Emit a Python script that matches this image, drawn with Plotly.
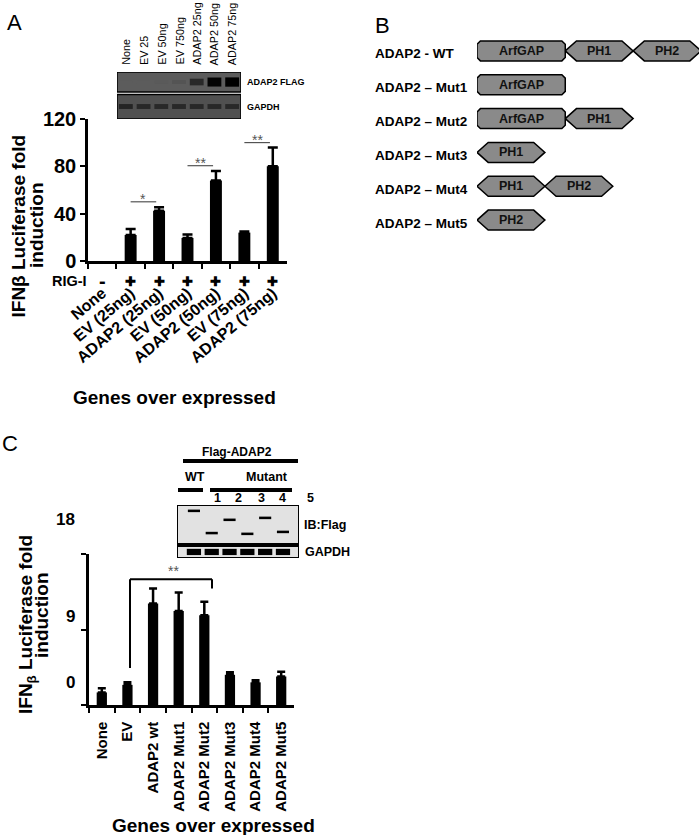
import numpy as np
import plotly.graph_objects as go

W, H = 700, 835
FONT = "Liberation Sans, Arial, sans-serif"

# ---- panel A: IFNb luciferase vs ADAP2 dose
a_genes = ["None", "EV (25ng)", "ADAP2 (25ng)", "EV (50ng)", "ADAP2 (50ng)", "EV (75ng)", "ADAP2 (75ng)"]
a_fold = [0, 22, 42.5, 19.5, 68, 24, 80]
a_err = [None, 5, 3, 3, 8, 1, 16]
a_rig_i = ["-", "+", "+", "+", "+", "+", "+"]
a_ticks = [0, 40, 80, 120]
a_sig_pairs = [(1, 2), (3, 4), (5, 6)]
a_sig_y = [50, 80.5, 100]
a_sig_text = ["*", "**", "**"]

# western blot inset of panel A
blot_a_lanes = ["None", "EV 25", "EV 50ng", "EV 750ng", "ADAP2 25ng", "ADAP2 50ng", "ADAP2 75ng"]
blot_a_flag = [0.0, 0.0, 0.02, 0.08, 0.55, 0.95, 1.0]
blot_a_gapdh = [0.55, 0.5, 0.5, 0.5, 0.5, 0.5, 0.5]

# ---- panel B: domain constructs
constructs = ["ADAP2 - WT", "ADAP2 \u2013 Mut1", "ADAP2 \u2013 Mut2", "ADAP2 \u2013 Mut3",
              "ADAP2 \u2013 Mut4", "ADAP2 \u2013 Mut5"]
construct_domains = [["ArfGAP", "PH1", "PH2"], ["ArfGAP"], ["ArfGAP", "PH1"], ["PH1"],
                     ["PH1", "PH2"], ["PH2"]]
domain_len = {"ArfGAP": 1.3, "PH1": 1.0, "PH2": 1.0}

# ---- panel C: IFNb luciferase vs ADAP2 mutants
c_genes = ["None", "EV", "ADAP2 wt", "ADAP2 Mut1", "ADAP2 Mut2", "ADAP2 Mut3", "ADAP2 Mut4", "ADAP2 Mut5"]
c_fold = [1.5, 2.4, 12.1, 11.2, 10.7, 3.6, 2.7, 3.4]
c_err = [0.5, 0.3, 1.8, 2.2, 1.6, 0.3, 0.25, 0.55]
c_ticks = [0, 9, 18]
c_sig = (1, 4, 15.0, "**")

# western blot inset of panel C
c_blot_lanes = ["WT", "1", "2", "3", "4", "5"]
c_band_migration = [0.15, 0.72, 0.38, 0.74, 0.33, 0.69]
c_gapdh = [1, 1, 1, 1, 1, 1]


def px(x):
    return x / W


def py(y):
    return 1 - y / H


def note(text, x, y, size, xref="paper", yref="paper", bold=True, color="black",
         xanchor="center", yanchor="middle", **kw):
    return dict(text=text, x=x, y=y, xref=xref, yref=yref, showarrow=False,
                xanchor=xanchor, yanchor=yanchor,
                font=dict(family=FONT, size=size, color=color, weight="bold" if bold else "normal"), **kw)


def mix(rgb, k):
    r, g, b = [int(c * (1 - k)) for c in rgb]
    return f"rgb({r},{g},{b})"


fig = go.Figure()
annotations = []
shapes = []

# bars A (no error bar where there is no value)
a_err_arr = np.array(a_err, dtype=float)
fig.add_trace(go.Bar(x=a_genes, y=a_fold, marker=dict(color="black", line_width=0), width=0.42,
                     error_y=dict(type="data", array=a_err_arr, arrayminus=a_err_arr * 0,
                                  symmetric=False, color="black", thickness=2.5, width=5),
                     xaxis="x", yaxis="y", showlegend=False))

# bars C
fig.add_trace(go.Bar(x=c_genes, y=c_fold, marker=dict(color="black", line_width=0), width=0.4,
                     error_y=dict(type="data", array=c_err, arrayminus=[0] * len(c_err), symmetric=False,
                                  color="black", thickness=2.5, width=4),
                     xaxis="x2", yaxis="y2", showlegend=False))

# blot A bands
lanes_a = list(range(1, len(blot_a_lanes) + 1))
flag_bg, gapdh_bg = (92, 92, 92), (80, 80, 80)
fig.add_trace(go.Bar(x=lanes_a, y=[0.14 + 0.24 * v for v in blot_a_flag],
                     base=[1.0 - (0.14 + 0.24 * v) / 2 for v in blot_a_flag],
                     marker=dict(color=[mix(flag_bg, v) for v in blot_a_flag], line_width=0),
                     width=0.78, xaxis="x3", yaxis="y3", showlegend=False))
fig.add_trace(go.Bar(x=lanes_a, y=[0.2] * len(blot_a_gapdh), base=[-0.1] * len(blot_a_gapdh),
                     marker=dict(color=[mix(gapdh_bg, v) for v in blot_a_gapdh], line_width=0),
                     width=0.78, xaxis="x3", yaxis="y3", showlegend=False))
shapes.append(dict(type="rect", xref="x3", yref="y3", x0=0.5, x1=7.5, y0=0.59, y1=1.41,
                   fillcolor="rgb(92,92,92)", line=dict(color="black", width=1.5), layer="below"))
shapes.append(dict(type="rect", xref="x3", yref="y3", x0=0.5, x1=7.5, y0=-0.51, y1=0.49,
                   fillcolor="rgb(80,80,80)", line=dict(color="black", width=1.5), layer="below"))
for i, lab in enumerate(blot_a_lanes):
    annotations.append(note(lab, i + 1, py(67), 10.8, xref="x3", bold=False, textangle=-90,
                            yanchor="bottom"))
annotations.append(note("ADAP2 FLAG", px(245), py(82), 9, xanchor="left"))
annotations.append(note("GAPDH", px(245), py(107), 9, xanchor="left"))

# panel B domain diagrams
for row, doms in enumerate(construct_domains):
    start = 0.0
    for d in doms:
        s, e = start, start + domain_len[d]
        hh = 0.295
        if d == "ArfGAP":
            cx, ch = 0.05, 0.1
            xs = [s, s + cx, e - cx, e, e, e - cx, s + cx, s, s]
            ys = [row - hh + ch, row - hh, row - hh, row - hh + ch, row + hh - ch, row + hh, row + hh,
                  row + hh - ch, row - hh + ch]
        else:
            dp = 0.165
            xs = [s, s + dp, e - dp, e, e - dp, s + dp, s]
            ys = [row, row - hh, row - hh, row, row + hh, row + hh, row]
        fig.add_trace(go.Scatter(x=xs, y=ys, mode="lines", fill="toself", fillcolor="#8a8a8a",
                                 line=dict(color="black", width=1.5), xaxis="x4", yaxis="y4",
                                 showlegend=False, hoverinfo="skip"))
        annotations.append(note(d, (s + e) / 2, row, 12.5, xref="x4", yref="y4", color="#111"))
        start = e
    annotations.append(note(constructs[row], px(373), row, 13.5, yref="y4", xanchor="left", yshift=-3))

# blot C
lanes_c = list(range(1, len(c_blot_lanes) + 1))
shapes.append(dict(type="rect", xref="x5", yref="y5", x0=0.05, x1=6.9, y0=0, y1=1.0,
                   fillcolor="#e2e2e2", line=dict(color="black", width=2), layer="below"))
shapes.append(dict(type="rect", xref="x5", yref="y5", x0=0.05, x1=6.9, y0=1.05, y1=1.36,
                   fillcolor="#e2e2e2", line=dict(color="black", width=2), layer="below"))
fig.add_trace(go.Bar(x=lanes_c, y=[0.065] * len(lanes_c), base=[m - 0.032 for m in c_band_migration],
                     marker=dict(color="black", line_width=0), width=0.68, xaxis="x5", yaxis="y5",
                     showlegend=False))
fig.add_trace(go.Bar(x=lanes_c, y=[0.16 * v for v in c_gapdh], base=[1.125] * len(c_gapdh),
                     marker=dict(color="black", line_width=0), width=0.8, xaxis="x5", yaxis="y5",
                     showlegend=False))
annotations.append(note("Flag-ADAP2", px(237), py(452), 12))
shapes.append(dict(type="line", xref="paper", yref="paper", x0=px(183), x1=px(298), y0=py(461), y1=py(461),
                   line=dict(color="black", width=4)))
annotations.append(note("WT", px(195), py(477), 12.5))
annotations.append(note("Mutant", px(267), py(477), 12.5))
shapes.append(dict(type="line", xref="paper", yref="paper", x0=px(178), x1=px(203), y0=py(490), y1=py(490),
                   line=dict(color="black", width=4)))
shapes.append(dict(type="line", xref="paper", yref="paper", x0=px(210), x1=px(292), y0=py(490), y1=py(490),
                   line=dict(color="black", width=4)))
for lab, xx in zip(c_blot_lanes[1:], [217, 238, 261, 282, 310]):
    annotations.append(note(lab, px(xx), py(498), 12.5))
annotations.append(note("IB:Flag", px(302), py(525), 12.5, xanchor="left"))
annotations.append(note("GAPDH", px(303), py(552), 12.5, xanchor="left"))

# significance A
for (i, j), yy, t in zip(a_sig_pairs, a_sig_y, a_sig_text):
    shapes.append(dict(type="line", xref="x", yref="y", x0=i, x1=j - 0.1, y0=yy, y1=yy,
                       line=dict(color="#333", width=1)))
    annotations.append(note(t, (i + j - 0.1) / 2, yy, 14, xref="x", yref="y", bold=False,
                            color="#555", yshift=3))

# significance C bracket
ci, cj, cy, ct = c_sig
left_bottom = c_fold[ci] + c_err[ci] + 1.7
shapes += [
    dict(type="line", xref="x2", yref="y2", x0=ci + 0.1, x1=ci + 0.1, y0=left_bottom, y1=cy,
         line=dict(color="black", width=2)),
    dict(type="line", xref="x2", yref="y2", x0=ci + 0.1, x1=cj + 0.3, y0=cy, y1=cy,
         line=dict(color="black", width=2)),
    dict(type="line", xref="x2", yref="y2", x0=cj + 0.3, x1=cj + 0.3, y0=cy, y1=cy - 1.1,
         line=dict(color="black", width=2)),
]
annotations.append(note(ct, 2.79, cy, 14, xref="x2", yref="y2", bold=False, color="#555",
                        yanchor="bottom", yshift=-2))

# RIG-I row
annotations.append(note("RIG-I", px(89), py(281), 14.5, xanchor="right"))
for i, s in enumerate(a_rig_i):
    sym = "\u271a" if s == "+" else "<b>-</b>"
    annotations.append(note(sym, i, py(281), 13 if s == "+" else 20, xref="x"))

# C y tick labels (drawn a bit above their ticks, as in the original)
C_TICK_LIFT = [23, 13, 35]
for v, lift in zip(c_ticks, C_TICK_LIFT):
    annotations.append(note(str(v), px(77), v, 17, yref="y2", xanchor="right", yshift=lift))

# axis titles
annotations += [
    note("IFN\u03b2 Luciferase fold", px(17.5), py(226), 19, textangle=-90),
    note("induction", px(36), py(226), 19, textangle=-90),
    note("Genes over expressed", px(174.5), py(397), 19),
    note("IFN<sub>\u03b2</sub> Luciferase fold", px(27), py(625), 19, textangle=-90),
    note("induction", px(41), py(616), 19, textangle=-90),
    note("Genes over expressed", px(213.5), py(825), 19),
    note("A", px(14), py(23), 22, bold=False),
    note("B", px(382), py(25), 22, bold=False),
    note("C", px(10), py(443), 22, bold=False),
]

axis_style = dict(showline=True, linewidth=2.5, linecolor="black", ticks="outside", ticklen=5,
                  tickwidth=2, tickcolor="black", showgrid=False, zeroline=False, automargin=False)
hidden = dict(visible=False, showgrid=False, zeroline=False, fixedrange=True, automargin=False)

fig.update_layout(
    template="none",
    width=W, height=H, autosize=False, margin=dict(l=0, r=0, t=0, b=0, pad=0),
    paper_bgcolor="white", plot_bgcolor="rgba(0,0,0,0)", barmode="overlay",
    font=dict(family=FONT, color="black"),
    xaxis=dict(domain=[px(88), px(287)], anchor="y", type="category", tickson="boundaries",
               tickangle=-40, ticklabelstandoff=14,
               tickfont=dict(family=FONT, size=16, weight="bold"), range=[-0.5, 6.5], **axis_style),
    yaxis=dict(domain=[py(261), py(119)], anchor="x", range=[0, 120], tickvals=a_ticks,
               tickfont=dict(family=FONT, size=20, weight="bold"), **axis_style),
    xaxis2=dict(domain=[px(89), px(294)], anchor="y2", type="category", tickson="boundaries",
                tickangle=-90, ticklabelstandoff=8,
                tickfont=dict(family=FONT, size=15, weight="bold"), range=[-0.5, 7.5], **axis_style),
    yaxis2=dict(domain=[py(705), py(554)], anchor="x2", range=[0, 18], tickvals=c_ticks,
                showticklabels=False, **axis_style),
    xaxis3=dict(domain=[px(117), px(241)], anchor="y3", range=[0.5, 7.5], **hidden),
    yaxis3=dict(domain=[py(119), py(72)], anchor="x3", range=[-0.51, 1.41], **hidden),
    xaxis4=dict(domain=[px(477), px(699)], anchor="y4", range=[0, 3.27], **hidden),
    yaxis4=dict(domain=[py(237), py(34)], anchor="x4", range=[5.5, -0.5], **hidden),
    xaxis5=dict(domain=[px(177), px(299)], anchor="y5", range=[0.05, 6.9], **hidden),
    yaxis5=dict(domain=[py(558), py(505)], anchor="x5", range=[1.36, 0], **hidden),
    annotations=annotations, shapes=shapes,
)

fig.write_html("out.html", config={"displayModeBar": False},
               post_script="document.body.style.margin='0';")
